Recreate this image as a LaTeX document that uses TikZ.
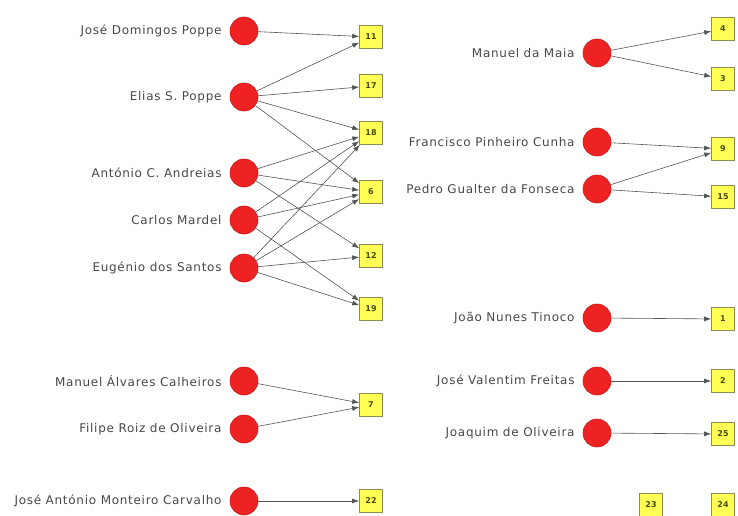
\documentclass[tikz,border=0pt]{standalone}
\usepackage{fontspec}
\setmainfont{DejaVu Sans}
\newfontfamily\lblfont[LetterSpace=6]{DejaVu Sans}
\usetikzlibrary{positioning,arrows.meta}
\definecolor{dotred}{HTML}{EE2222}
\definecolor{dotedge}{HTML}{C41A1A}
\definecolor{boxfill}{HTML}{FFFF55}
\definecolor{boxedge}{HTML}{8C8C50}
\definecolor{numcol}{HTML}{4A4A10}
\definecolor{linkgray}{HTML}{555555}
\definecolor{labelgray}{HTML}{484848}
\tikzset{
	person/.style={draw=dotedge, fill=dotred, circle, minimum size=28pt, inner sep=0pt, line width=0.6pt},
	work/.style={draw=boxedge, fill=boxfill, minimum size=23pt, inner sep=0pt, line width=0.6pt, font=\fontsize{8}{9}\selectfont\bfseries, text=numcol},
	who/.style={text=labelgray, font=\lblfont\fontsize{12}{14}\selectfont, inner sep=0pt},
	link/.style={draw=linkgray, line width=0.6pt, -{Latex[length=7pt,width=5pt]}},
}
\begin{document}
\begin{tikzpicture}[x=1pt,y=-1pt]
		\fill[white] (0,0) rectangle (738,516);
		\useasboundingbox (0,0) rectangle (738,516);
		% left group
		\node[person] (jdp) at (244,31) {};
		\node[person] (esp) at (244,97) {};
		\node[person] (aca) at (244,173) {};
		\node[person] (cm) at (244,220) {};
		\node[person] (eds) at (244,268) {};
		\node[person] (mac) at (244,381) {};
		\node[person] (fro) at (244,429) {};
		\node[person] (jamc) at (244,501) {};
		\node[who, left=8pt of jdp] (jdpl) {José Domingos Poppe};
		\node[who, left=8pt of esp] (espl) {Elias S. Poppe};
		\node[who, left=8pt of aca] (acal) {António C. Andreias};
		\node[who, left=8pt of cm] (cml) {Carlos Mardel};
		\node[who, left=8pt of eds] (edsl) {Eugénio dos Santos};
		\node[who, left=8pt of mac] (macl) {Manuel Álvares Calheiros};
		\node[who, left=8pt of fro] (frol) {Filipe Roiz de Oliveira};
		\node[who, left=8pt of jamc] (jamcl) {José António Monteiro Carvalho};
		\node[work] (n11) at (371,37) {11};
		\node[work] (n17) at (371,86) {17};
		\node[work] (n18) at (371,133) {18};
		\node[work] (n6) at (371,192) {6};
		\node[work] (n12) at (371,256) {12};
		\node[work] (n19) at (371,309) {19};
		\node[work] (n7) at (371,405) {7};
		\node[work] (n22) at (371,501) {22};
		\draw[link] (jdp) -- (n11);
		\foreach \x in {n11,n17,n18,n6}{\draw[link] (esp) -- (\x);}
		\foreach \x in {n18,n6,n12}{\draw[link] (aca) -- (\x);}
		\foreach \x in {n18,n6,n19}{\draw[link] (cm) -- (\x);}
		\foreach \x in {n18,n6,n12,n19}{\draw[link] (eds) -- (\x);}
		\draw[link] (mac) -- (n7);
		\draw[link] (fro) -- (n7);
		\draw[link] (jamc) -- (n22);
		% right group
		\node[person] (mm) at (597,53) {};
		\node[person] (fpc) at (597,142) {};
		\node[person] (pgf) at (597,189) {};
		\node[person] (jnt) at (597,318) {};
		\node[person] (jvf) at (597,381) {};
		\node[person] (jo) at (597,433) {};
		\node[who, left=8pt of mm] (mml) {Manuel da Maia};
		\node[who, left=8pt of fpc] (fpcl) {Francisco Pinheiro Cunha};
		\node[who, left=8pt of pgf] (pgfl) {Pedro Gualter da Fonseca};
		\node[who, left=8pt of jnt] (jntl) {João Nunes Tinoco};
		\node[who, left=8pt of jvf] (jvfl) {José Valentim Freitas};
		\node[who, left=8pt of jo] (jol) {Joaquim de Oliveira};
		\node[work] (n4) at (723,29) {4};
		\node[work] (n3) at (723,79) {3};
		\node[work] (n9) at (723,149) {9};
		\node[work] (n15) at (723,197) {15};
		\node[work] (n1) at (723,319) {1};
		\node[work] (n2) at (723,381) {2};
		\node[work] (n25) at (723,434) {25};
		\node[work] (n23) at (651,505) {23};
		\node[work] (n24) at (723,505) {24};
		\draw[link] (mm) -- (n4);
		\draw[link] (mm) -- (n3);
		\draw[link] (fpc) -- (n9);
		\draw[link] (pgf) -- (n9);
		\draw[link] (pgf) -- (n15);
		\draw[link] (jnt) -- (n1);
		\draw[link] (jvf) -- (n2);
		\draw[link] (jo) -- (n25);
	\end{tikzpicture}
\end{document}
